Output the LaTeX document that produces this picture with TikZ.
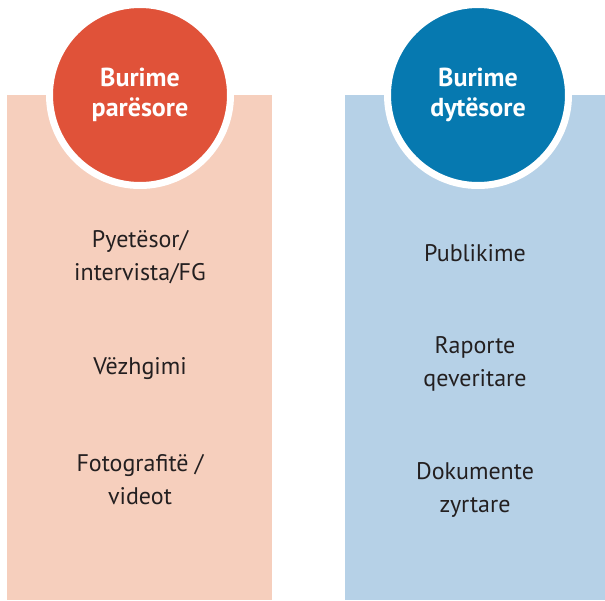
\documentclass[tikz,border=0pt]{standalone}
\usepackage{fontspec}
\setmainfont{PT Sans}
\definecolor{redsrc}{HTML}{E05239}
\definecolor{redbg}{HTML}{F6CFBD}
\definecolor{bluesrc}{HTML}{0679B0}
\definecolor{bluebg}{HTML}{B6D1E7}
\definecolor{txt}{HTML}{231F20}
\begin{document}
\begin{tikzpicture}[
			x=1pt, y=-1pt,
			srccircle/.style={circle, draw=white, line width=7pt, minimum size=181pt, inner sep=0pt,
				text=white, align=center, font=\fontsize{26}{30}\selectfont\bfseries},
			item/.style={text=txt, align=center, font=\fontsize{24}{33}\selectfont}
			]

				\useasboundingbox (0,0) rectangle (605,600);

				\fill[redbg] (7,95) rectangle (272,600);
				\fill[bluebg] (345,95) rectangle (605,600);

				\node[srccircle, fill=redsrc] (primary) at (140,95) {Burime\\par\"esore};
				\node[srccircle, fill=bluesrc] (secondary) at (478,95) {Burime\\dyt\"esore};

				\node[item] (survey) at (140,257) {Pyet\"esor/\\intervista/FG};
				\node[item] (observe) at (140,369) {V\"ezhgimi};
				\node[item] (photo) at (140,480) {Fotografit\"e /\\videot};

				\node[item] (publish) at (475,253) {Publikime};
				\node[item] (report) at (475,364) {Raporte\\qeveritare};
				\node[item] (docs) at (475,490) {Dokumente\\zyrtare};

			\end{tikzpicture}
\end{document}
